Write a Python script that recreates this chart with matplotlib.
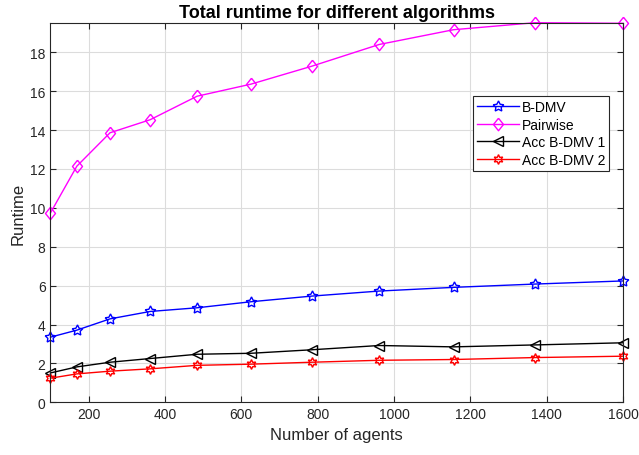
import numpy as np
import matplotlib
matplotlib.use('Agg')
import matplotlib.pyplot as plt

plt.rcParams['font.family'] = ['Liberation Sans', 'DejaVu Sans']

agents = [100, 169, 256, 361, 484, 625, 784, 961, 1156, 1369, 1600]
bdmv = [3.35, 3.71, 4.29, 4.67, 4.86, 5.17, 5.46, 5.72, 5.91, 6.08, 6.24]
pairwise = [9.74, 12.14, 13.86, 14.53, 15.74, 16.36, 17.28, 18.4, 19.16, 19.52, 19.49]
acc1 = [1.51, 1.82, 2.06, 2.25, 2.47, 2.52, 2.7, 2.92, 2.85, 2.95, 3.06]
acc2 = [1.24, 1.46, 1.6, 1.72, 1.9, 1.96, 2.06, 2.16, 2.2, 2.3, 2.37]

fig = plt.figure(figsize=(6.39, 4.56), dpi=100)
ax = fig.add_axes([0.079, 0.1156, 0.896, 0.8324])

# MATLAB-like diamond (a bit taller than wide)
diamond = [(0, 1), (0.8, 0), (0, -1), (-0.8, 0), (0, 1)]

ax.plot(agents, bdmv, color='blue', lw=1.0, marker=(5, 1, 0), ms=8,
        mfc='none', mew=1.0, label='B-DMV', clip_on=False)
ax.plot(agents, pairwise, color='magenta', lw=1.0, marker=diamond, ms=9,
        mfc='none', mew=1.0, label='Pairwise', clip_on=False)
ax.plot(agents, acc1, color='black', lw=1.0, marker='<', ms=7,
        mfc='none', mew=1.0, label='Acc B-DMV 1', clip_on=False)
ax.plot(agents, acc2, color='red', lw=1.0, marker=(6, 1, 0), ms=7,
        mfc='none', mew=1.0, label='Acc B-DMV 2', clip_on=False)

ax.set_xlim(100, 1600)
ax.set_ylim(0, max(pairwise))
ax.set_xticks(np.arange(200, 1601, 200))
ax.set_yticks(np.arange(0, 19, 2))

ax.grid(True, color='#dcdcdc', lw=0.8)
ax.set_axisbelow(True)
for s in ax.spines.values():
    s.set_color('#262626')
    s.set_linewidth(0.8)
ax.tick_params(direction='in', top=True, right=True, labelsize=10,
               colors='#262626', length=4)

ax.set_xlabel('Number of agents', fontsize=12, color='#262626', labelpad=4)
ax.set_ylabel('Runtime', fontsize=12, color='#262626', labelpad=3)
ax.set_title('Total runtime for different algorithms', fontsize=13,
             fontweight='bold', pad=4)

leg = ax.legend(loc='upper left', bbox_to_anchor=(0.738, 0.807), fontsize=10,
                fancybox=False, framealpha=1, edgecolor='#262626',
                borderpad=0.3, labelspacing=0.25, handlelength=3.0,
                handletextpad=0.2, borderaxespad=0)
leg.get_frame().set_linewidth(0.8)

fig.savefig('out.png', dpi=100)
